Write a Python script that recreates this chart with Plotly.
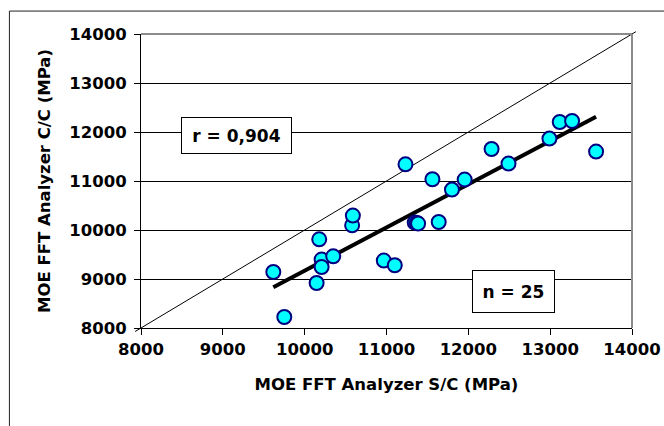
import numpy as np
import plotly.graph_objects as go

# MOE measured with the FFT analyzer: S/C (x) vs C/C (y), MPa
moe_sc = [9617, 9751, 10146, 10178, 10207, 10207, 10349, 10580, 10589,
          10967, 11101, 11232, 11345, 11370, 11386, 11561, 11638, 11800,
          11955, 12284, 12491, 12991, 13117, 13268, 13561]
moe_cc = [9143, 8224, 8918, 9810, 9396, 9245, 9463, 10096, 10294,
          9376, 9280, 11341, 10151, 10145, 10131, 11035, 10163, 10824,
          11029, 11653, 11355, 11865, 12204, 12224, 11600]

axis_range = [8000, 14000]
tick_vals = [8000, 9000, 10000, 11000, 12000, 13000, 14000]
tick_text = ["8000", "9000", "10000", "11000", "12000", "13000", "14000"]
r_label = "r = 0,904"
n_label = "n = 25"

# least-squares trend line over the span of the data
slope, intercept = np.polyfit(moe_sc, moe_cc, 1)
trend_x = [min(moe_sc), max(moe_sc)]
trend_y = [slope * v + intercept for v in trend_x]

FONT = "DejaVu Sans"

fig = go.Figure()

fig.add_trace(go.Scatter(
    x=trend_x, y=trend_y, mode="lines",
    line=dict(color="black", width=4),
    hoverinfo="skip", showlegend=False,
))

fig.add_trace(go.Scatter(
    x=moe_sc, y=moe_cc, mode="markers",
    marker=dict(size=14, color="#00FFFF",
                line=dict(color="#000080", width=2)),
    showlegend=False,
))

axis_font = dict(family=FONT, size=16.5, color="black", weight="bold")
title_font = dict(family=FONT, size=16.5, color="black", weight="bold")

fig.update_xaxes(
    range=axis_range, tickvals=tick_vals, ticktext=tick_text,
    showgrid=False, zeroline=False, automargin=False,
    showline=True, linecolor="black", linewidth=1,
    ticks="outside", ticklen=6, tickcolor="black", tickwidth=1,
    tickfont=axis_font,
    title=dict(text="MOE FFT Analyzer S/C (MPa)", font=title_font, standoff=20),
)
fig.update_yaxes(
    range=axis_range, tickvals=tick_vals, ticktext=tick_text,
    showgrid=True, gridcolor="black", gridwidth=1, zeroline=False,
    automargin=False,
    showline=True, linecolor="black", linewidth=1,
    ticks="outside", ticklen=6, tickcolor="black", tickwidth=1,
    tickfont=axis_font, ticklabelstandoff=4,
    title=dict(text="MOE FFT Analyzer C/C (MPa)", font=title_font, standoff=14),
)

shapes = [
    # 1:1 reference line
    dict(type="line", xref="paper", yref="paper",
         x0=-0.012, y0=-0.012, x1=1.008, y1=1.008,
         line=dict(color="black", width=1), layer="below"),
    # grey top and right edges of the plot area
    dict(type="line", xref="paper", yref="paper", x0=0, y0=1, x1=1, y1=1,
         line=dict(color="#8c8c8c", width=2)),
    dict(type="line", xref="paper", yref="paper", x0=1, y0=0, x1=1, y1=1,
         line=dict(color="#8c8c8c", width=2)),
    # chart frame
    dict(type="rect", xref="paper", yref="paper",
         x0=-0.268, y0=-0.40, x1=1.25, y1=1.078,
         line=dict(color="#222222", width=1), layer="below"),
]

box_font = dict(family=FONT, size=17, color="black", weight="bold")
annotations = [
    dict(x=9166, y=11929, xref="x", yref="y", text=r_label, showarrow=False,
         font=box_font, bgcolor="white", bordercolor="black", borderwidth=1,
         width=105, height=31, borderpad=2),
    dict(x=12550, y=8749, xref="x", yref="y", text=n_label, showarrow=False,
         font=box_font, bgcolor="white", bordercolor="black", borderwidth=1,
         width=77, height=37, borderpad=2),
]

fig.update_layout(
    width=664, height=426,
    margin=dict(l=141, r=32, t=34, b=98),
    paper_bgcolor="white", plot_bgcolor="white",
    shapes=shapes, annotations=annotations,
    font=dict(family=FONT, color="black"),
)

fig.write_html("out.html")
